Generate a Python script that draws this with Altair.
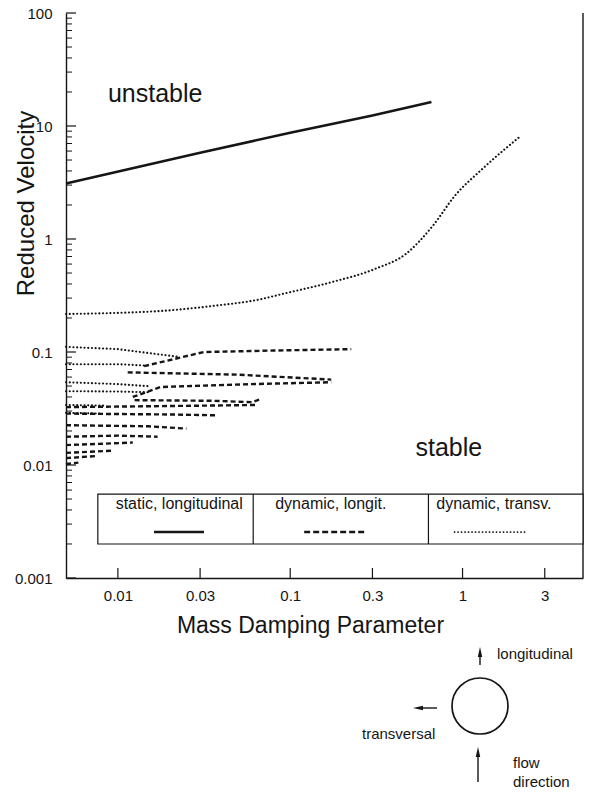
import altair as alt
import pandas as pd

FONT = "Liberation Sans"
INK = "#151515"

# ---------------- data ----------------
# static, longitudinal (solid)
static_x = [0.005, 0.03, 0.1, 0.3, 0.66]
static_y = [3.1, 5.8, 8.7, 12.4, 16.3]

# dynamic, transversal - main branch (dotted)
transv_x = [0.005, 0.01, 0.018, 0.035, 0.068, 0.09, 0.175, 0.31, 0.47, 0.67, 0.9, 1.3, 2.14]
transv_y = [0.217, 0.222, 0.231, 0.255, 0.294, 0.326, 0.416, 0.543, 0.74, 1.3, 2.4, 4.16, 8.0]

# dynamic, transversal - short branches at low damping (dotted)
tb_id = [1, 1, 1, 2, 2, 2, 3, 3, 3, 4, 4, 4, 5, 5, 6, 6]
tb_x = [0.005, 0.01, 0.022, 0.005, 0.01, 0.0142, 0.005, 0.01, 0.0155,
        0.005, 0.01, 0.0155, 0.005, 0.0085, 0.005, 0.008]
tb_y = [0.111, 0.106, 0.091, 0.078, 0.078, 0.076, 0.054, 0.052, 0.0497,
        0.045, 0.0447, 0.044, 0.034, 0.0335, 0.029, 0.0285]

# dynamic, longitudinal branches (dashed)
lb_id = [1, 1, 1, 1, 2, 2, 2, 3, 3, 3, 3, 4, 4, 4, 4, 5, 5, 5, 6, 6, 6,
         7, 7, 7, 8, 8, 8, 9, 9, 10, 10, 11, 11, 12, 12]
lb_x = [0.0142, 0.0316, 0.08, 0.226,
        0.0114, 0.05, 0.173,
        0.0122, 0.0177, 0.06, 0.173,
        0.0125, 0.035, 0.06, 0.068,
        0.005, 0.03, 0.065,
        0.005, 0.02, 0.038,
        0.005, 0.015, 0.025,
        0.005, 0.01, 0.017,
        0.005, 0.0122,
        0.005, 0.0094,
        0.005, 0.0074,
        0.005, 0.0059]
lb_y = [0.075, 0.100, 0.103, 0.106,
        0.066, 0.063, 0.057,
        0.040, 0.049, 0.052, 0.054,
        0.0375, 0.037, 0.036, 0.0385,
        0.0325, 0.0335, 0.034,
        0.0285, 0.028, 0.0275,
        0.0225, 0.022, 0.021,
        0.0178, 0.0182, 0.0178,
        0.0150, 0.0158,
        0.0128, 0.0134,
        0.0115, 0.0120,
        0.0102, 0.0105]

# axes
x_ticks = [0.01, 0.03, 0.1, 0.3, 1, 3]
y_major = [0.001, 0.01, 0.1, 1, 10, 100]
y_minor = [m * d for d in [0.001, 0.01, 0.1, 1, 10] for m in range(2, 10)]

# legend box (in data units of the plot)
legend_labels = ["static, longitudinal", "dynamic, longit.", "dynamic, transv."]
legend_edges = [0.00765, 0.061, 0.634, 5.0]
legend_text_x = [0.0227, 0.172, 1.52]
legend_x1 = [0.0162, 0.1205, 0.898]
legend_x2 = [0.0316, 0.269, 2.29]
legend_y_box = [0.0020, 0.00553]
legend_y_text = 0.00408
legend_y_line = 0.00255

# region labels
region_text = ["unstable", "stable"]
region_x = [0.00875, 0.533]
region_y = [16.3, 0.012]

# ---------------- plot ----------------
W, H = 517, 565
xs = alt.Scale(type="log", domain=[0.005, 5], nice=False)
ys = alt.Scale(type="log", domain=[0.001, 100], nice=False)

xaxis = alt.Axis(values=x_ticks, format="~g", ticks=False, tickSize=0, grid=False,
                 labelPadding=10, labelFontSize=15, labelFont=FONT, labelColor=INK,
                 domainColor=INK, domainWidth=1.4,
                 title="Mass Damping Parameter", titleFont=FONT, titleFontSize=23,
                 titleFontWeight="normal", titleColor=INK, titleX=244, titleY=54,
                 titleBaseline="alphabetic", titleAlign="center")
yaxis = alt.Axis(values=y_major, format="~g", ticks=False, tickSize=0, grid=False,
                 labelPadding=14, labelFontSize=15, labelFont=FONT, labelColor=INK,
                 domainColor=INK, domainWidth=1.4,
                 title="Reduced Velocity", titleFont=FONT, titleFontSize=24,
                 titleFontWeight="normal", titleColor=INK, titleX=-33, titleY=190,
                 titleAngle=270, titleBaseline="alphabetic", titleAlign="center")


def X(f="x"):
    return alt.X(f"{f}:Q", scale=xs, axis=xaxis)


def Y(f="y"):
    return alt.Y(f"{f}:Q", scale=ys, axis=yaxis)


df_static = pd.DataFrame({"x": static_x, "y": static_y})
df_tr = pd.DataFrame({"x": transv_x, "y": transv_y})
df_tb = pd.DataFrame({"x": tb_x, "y": tb_y, "b": tb_id})
df_lb = pd.DataFrame({"x": lb_x, "y": lb_y, "b": lb_id})

dotted = dict(color=INK, strokeWidth=2.1, strokeDash=[0.1, 3.6], strokeCap="round")
dashed = dict(color=INK, strokeWidth=2.4, strokeDash=[5, 3])

static_line = alt.Chart(df_static).mark_line(color=INK, strokeWidth=2.5).encode(x=X(), y=Y())
tr_line = alt.Chart(df_tr).mark_line(interpolate="monotone", **dotted).encode(x=X(), y=Y())
tb_lines = alt.Chart(df_tb).mark_line(**dotted).encode(x=X(), y=Y(), detail="b:N")
lb_lines = alt.Chart(df_lb).mark_line(**dashed).encode(x=X(), y=Y(), detail="b:N")

# inward tick marks
xt = alt.Chart(pd.DataFrame({"x": x_ticks})).mark_rule(color=INK, strokeWidth=1.2).encode(
    x=X(), y=alt.value(H), y2=alt.value(H - 10))
ytM = alt.Chart(pd.DataFrame({"y": y_major})).mark_rule(color=INK, strokeWidth=1.2).encode(
    y=Y(), x=alt.value(0), x2=alt.value(10))
ytm = alt.Chart(pd.DataFrame({"y": y_minor})).mark_rule(color=INK, strokeWidth=1).encode(
    y=Y(), x=alt.value(0), x2=alt.value(6))
right_border = alt.Chart(pd.DataFrame({"x": [5.0]})).mark_rule(color=INK, strokeWidth=1.4).encode(
    x=X(), y=alt.value(0), y2=alt.value(H))

# legend box
df_box = pd.DataFrame({"x": [legend_edges[0]], "x2": [legend_edges[-1]],
                       "y": [legend_y_box[0]], "y2": [legend_y_box[1]]})
box = alt.Chart(df_box).mark_rect(fill="white", stroke=INK, strokeWidth=1.2).encode(
    x=X(), x2="x2:Q", y=Y(), y2="y2:Q")
df_div = pd.DataFrame({"x": legend_edges[1:3], "y": [legend_y_box[0]] * 2, "y2": [legend_y_box[1]] * 2})
dividers = alt.Chart(df_div).mark_rule(color=INK, strokeWidth=1.2).encode(x=X(), y=Y(), y2="y2:Q")
df_lt = pd.DataFrame({"x": legend_text_x, "y": [legend_y_text] * 3, "t": legend_labels})
leg_text = alt.Chart(df_lt).mark_text(font=FONT, fontSize=16, color=INK, align="center",
                                      baseline="alphabetic").encode(x=X(), y=Y(), text="t:N")


def sample(i, **style):
    d = pd.DataFrame({"x": [legend_x1[i]], "x2": [legend_x2[i]], "y": [legend_y_line]})
    return alt.Chart(d).mark_rule(**style).encode(x=X(), x2="x2:Q", y=Y())


s1 = sample(0, color=INK, strokeWidth=2.5)
s2 = sample(1, color=INK, strokeWidth=2.4, strokeDash=[6, 3])
s3 = sample(2, color=INK, strokeWidth=1.8, strokeDash=[0.1, 3.4], strokeCap="round")

df_reg = pd.DataFrame({"x": region_x, "y": region_y, "t": region_text})
regions = alt.Chart(df_reg).mark_text(font=FONT, fontSize=25, color=INK, align="left",
                                      baseline="alphabetic").encode(x=X(), y=Y(), text="t:N")

top = alt.layer(static_line, tr_line, tb_lines, lb_lines, xt, ytM, ytm, right_border,
                box, dividers, leg_text, s1, s2, s3, regions).properties(width=W, height=H)

# ---------------- flow-direction sketch ----------------
DW, DH = 517, 152
dxs = alt.Scale(domain=[0, DW], nice=False, zero=False)
dys = alt.Scale(domain=[0, DH], nice=False, zero=False, reverse=True)

circle_pos = {"x": [414], "y": [67]}
shaft_v = {"x": [414, 412], "y": [26, 143], "y2": [12, 112]}
shaft_h = {"x": [371], "x2": [351], "y": [69]}
heads_up = {"x": [414, 412], "y": [13, 113]}
heads_left = {"x": [352], "y": [69]}
sketch_text = ["longitudinal", "transversal", "flow", "direction"]
sketch_tx = [431, 296, 447, 447]
sketch_ty = [20, 100, 129, 148]


def DX(f="x"):
    return alt.X(f"{f}:Q", scale=dxs, axis=None)


def DY(f="y"):
    return alt.Y(f"{f}:Q", scale=dys, axis=None)


circ = alt.Chart(pd.DataFrame(circle_pos)).mark_point(
    shape="circle", size=3136, filled=False, color=INK, strokeWidth=1.7, opacity=1).encode(
    x=DX(), y=DY())
sv = alt.Chart(pd.DataFrame(shaft_v)).mark_rule(color=INK, strokeWidth=1.4).encode(
    x=DX(), y=DY(), y2="y2:Q")
sh = alt.Chart(pd.DataFrame(shaft_h)).mark_rule(color=INK, strokeWidth=1.4).encode(
    x=DX(), x2="x2:Q", y=DY())
hu = alt.Chart(pd.DataFrame(heads_up)).mark_point(
    shape="M0,-1L0.45,1L-0.45,1Z", size=100, filled=True, color=INK, opacity=1).encode(
    x=DX(), y=DY())
hl = alt.Chart(pd.DataFrame(heads_left)).mark_point(
    shape="M-1,0L1,-0.45L1,0.45Z", size=100, filled=True, color=INK, opacity=1).encode(
    x=DX(), y=DY())
st = alt.Chart(pd.DataFrame({"x": sketch_tx, "y": sketch_ty, "t": sketch_text})).mark_text(
    font=FONT, fontSize=15, color=INK, align="left", baseline="alphabetic").encode(
    x=DX(), y=DY(), text="t:N")

bottom = alt.layer(circ, sv, sh, hu, hl, st).properties(width=DW, height=DH)

chart = alt.vconcat(top, bottom, spacing=2).properties(
    padding={"left": 14, "top": 6, "right": 5, "bottom": 0},
    background="white",
).configure_view(stroke=None)

chart.save("out.html", embed_options={"renderer": "svg", "actions": False})
